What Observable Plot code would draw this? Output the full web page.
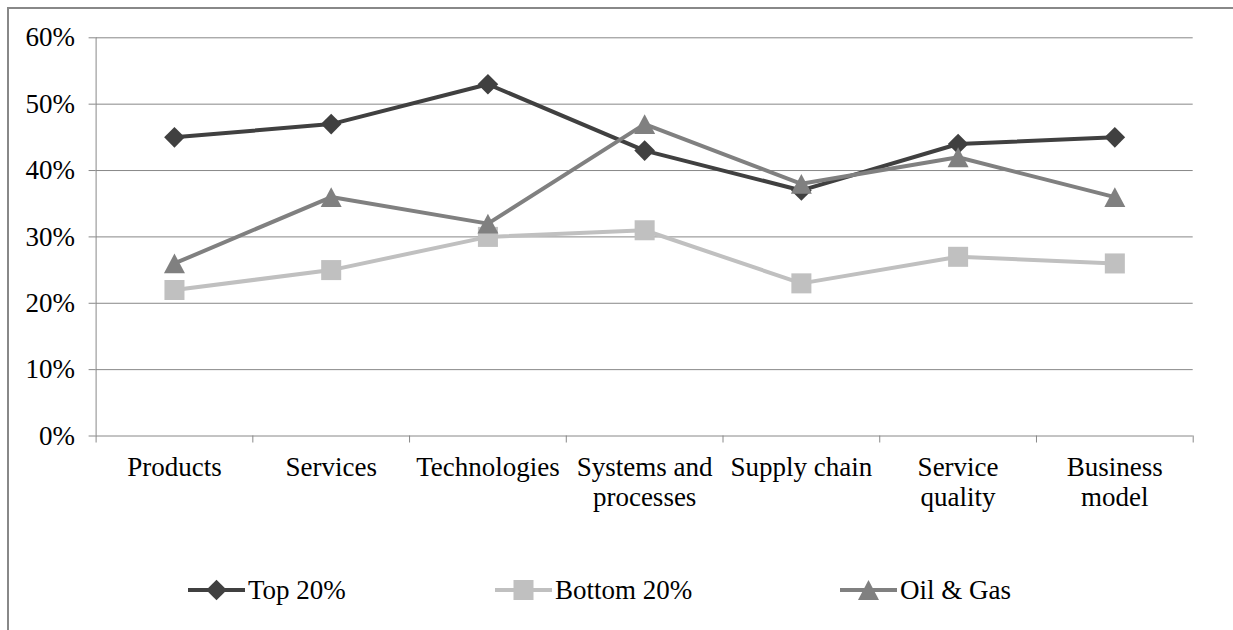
<!DOCTYPE html>
<html><head><meta charset="utf-8">
<script src="https://cdn.jsdelivr.net/npm/d3@7"></script>
<script src="https://cdn.jsdelivr.net/npm/@observablehq/plot@0.6"></script>
<style>
body{margin:0;background:#fff;}
#wrap{position:relative;width:1233px;height:630px;overflow:hidden;font-family:"Liberation Serif","Times New Roman","DejaVu Serif",serif;background:#fff;}
#frame{position:absolute;left:7px;top:7px;width:1400px;height:800px;border-top:2px solid #888;border-left:2px solid #888;}
#chart{position:absolute;left:0;top:0;}
#chart svg text{font-family:"Liberation Serif","Times New Roman","DejaVu Serif",serif;}
#legend{position:absolute;left:0;top:570px;width:1233px;height:40px;}
.item{position:absolute;top:0;height:40px;display:flex;align-items:center;font-size:27px;color:#000;white-space:pre;font-family:"Liberation Serif","Times New Roman","DejaVu Serif",serif;}
.item svg{display:block;}
</style></head>
<body>
<div id="wrap"><div id="frame"></div><div id="chart"></div><div id="legend"></div></div>
<script>
const categories = ["Products","Services","Technologies","Systems and\nprocesses","Supply chain","Service\nquality","Business\nmodel"];
const top20 = [0.45,0.47,0.53,0.43,0.37,0.44,0.45];
const bottom20 = [0.22,0.25,0.30,0.31,0.23,0.27,0.26];
const oilGas = [0.26,0.36,0.32,0.47,0.38,0.42,0.36];
const seriesNames = ["Top 20%","Bottom 20%","Oil & Gas"];
const seriesColors = ["#404040","#c0c0c0","#808080"];
const yTicks = [0,0.1,0.2,0.3,0.4,0.5,0.6];

const triangleSym = {draw(ctx, size){const s=Math.sqrt(size);const w=0.74*s,h=0.7*s;ctx.moveTo(0,-h);ctx.lineTo(w,h);ctx.lineTo(-w,h);ctx.closePath();}};
const seriesSymbols = ["diamond2","square",triangleSym];
const d3Symbols = [d3.symbolDiamond2, d3.symbolSquare, triangleSym];
const seriesR = [9.3,11.3,8];
const seriesValues = [top20,bottom20,oilGas];

const catPos = categories.map((_,i)=>i+0.5);
const seriesMarks = [];
seriesValues.forEach((vals,k)=>{
  const rows = vals.map((v,i)=>({x:i+0.5,y:v}));
  seriesMarks.push(Plot.line(rows,{x:"x",y:"y",stroke:seriesColors[k],strokeWidth:4}));
  seriesMarks.push(Plot.dot(rows,{x:"x",y:"y",symbol:seriesSymbols[k],r:seriesR[k],fill:seriesColors[k],stroke:"none"}));
});

const chart = Plot.plot({
  width:1233, height:540,
  marginLeft:95.6, marginRight:40.3, marginTop:37.3, marginBottom:104.5,
  x:{domain:[0,7]}, y:{domain:[0,0.6]},
  style:{fontFamily:"Liberation Serif, Times New Roman, DejaVu Serif, serif", fontSize:"27px", color:"#000", background:"transparent", overflow:"visible"},
  marks:[
    Plot.gridY(yTicks.slice(1),{stroke:"#888",strokeOpacity:1}),
    Plot.ruleY([0],{stroke:"#888"}),
    Plot.ruleX([0],{stroke:"#888"}),
    Plot.axisY(yTicks,{tickFormat:d3.format(".0%"),tickSize:7,tickPadding:14,stroke:"#888",fill:"#000",fontSize:27,label:null}),
    Plot.axisX(d3.range(8),{tickSize:7,tickFormat:()=>"",stroke:"#888",label:null}),
    Plot.axisX(catPos,{tickSize:0,tickPadding:19,tickFormat:d=>categories[Math.round(d-0.5)],fontSize:27,lineAnchor:"top",lineHeight:1.1,fill:"#000",label:null}),
    ...seriesMarks
  ]
});
document.getElementById("chart").appendChild(chart);

const legendLeft = [188,495,840];
const legend = d3.select("#legend");
seriesNames.forEach((name,k)=>{
  const item = legend.append("div").attr("class","item").style("left",legendLeft[k]+"px");
  const svg = item.append("svg").attr("width",57).attr("height",24);
  svg.append("line").attr("x1",0).attr("x2",57).attr("y1",12).attr("y2",12).attr("stroke",seriesColors[k]).attr("stroke-width",4);
  svg.append("path").attr("transform","translate(28.5,12)").attr("fill",seriesColors[k])
    .attr("d",d3.symbol(d3Symbols[k], Math.PI*seriesR[k]*seriesR[k])());
  item.append("span").style("margin-left","3px").text(name);
});
</script>
</body></html>
